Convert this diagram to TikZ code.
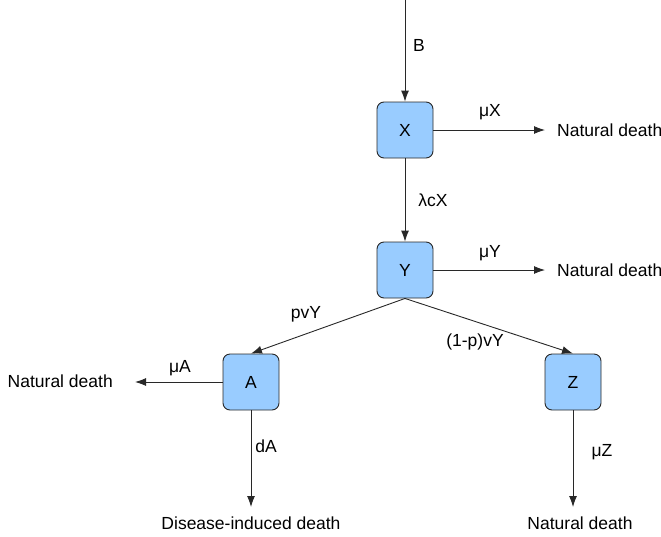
\documentclass[tikz,border=0pt]{standalone}
\usepackage{fontspec}
\setmainfont{Liberation Sans}
\usetikzlibrary{arrows.meta}
\definecolor{boxfill}{RGB}{153,204,255}
\definecolor{edge}{RGB}{40,40,40}
\begin{document}
\begin{tikzpicture}[x=1pt,y=-1pt,
  comp/.style={draw=edge,fill=boxfill,rounded corners=7pt,minimum width=56pt,minimum height=56pt,inner sep=0pt,font=\fontsize{17.5}{20}\selectfont,line width=0.9pt},
  txt/.style={font=\fontsize{17.5}{20}\selectfont,inner sep=0pt},
  lbl/.style={font=\fontsize{17.5}{20}\selectfont,inner sep=0pt},
  arr/.style={-{Latex[length=11pt,width=8pt]},line width=0.9pt,edge}]
\useasboundingbox (0,0) rectangle (661,536);
\node[comp] (X) at (405,130) {X};
\node[comp] (Y) at (405,270) {Y};
\node[comp] (A) at (251,382) {A};
\node[comp] (Z) at (573,382) {Z};
\coordinate (top) at (405,0);
\node[txt,anchor=west] (nX) at (557,130) {Natural death};
\node[txt,anchor=west] (nY) at (557,270) {Natural death};
\node[txt,anchor=east] (nA) at (113,381) {Natural death};
\node[txt,anchor=north] (dD) at (251,517) {Disease-induced death};
\node[txt,anchor=north] (nZ) at (580,517) {Natural death};
\draw[arr] (top) -- (X.north);
\draw[arr,shorten >=12pt] (X.east) -- (nX.west);
\draw[arr] (X.south) -- (Y.north);
\draw[arr,shorten >=12pt] (Y.east) -- (nY.west);
\draw[arr] (Y.south) -- (A.north);
\draw[arr] (Y.south) -- (Z.north);
\draw[arr,shorten >=22pt] (A.west) -- (nA.east |- A.west);
\draw[arr,shorten >=10pt] (A.south) -- (dD.north -| A.south);
\draw[arr,shorten >=10pt] (Z.south) -- (nZ.north -| Z.south);
\node[lbl] (lB) at (419,45) {B};
\node[lbl] (lmX) at (490,112) {μX};
\node[lbl] (llX) at (433,200) {λcX};
\node[lbl] (lmY) at (490,253) {μY};
\node[lbl] (lp) at (306,314) {pvY};
\node[lbl] (lq) at (475,342) {(1-p)vY};
\node[lbl] (lmA) at (180,368) {μA};
\node[lbl] (ldA) at (266,446) {dA};
\node[lbl] (lmZ) at (602,452) {μZ};
\end{tikzpicture}
\end{document}
